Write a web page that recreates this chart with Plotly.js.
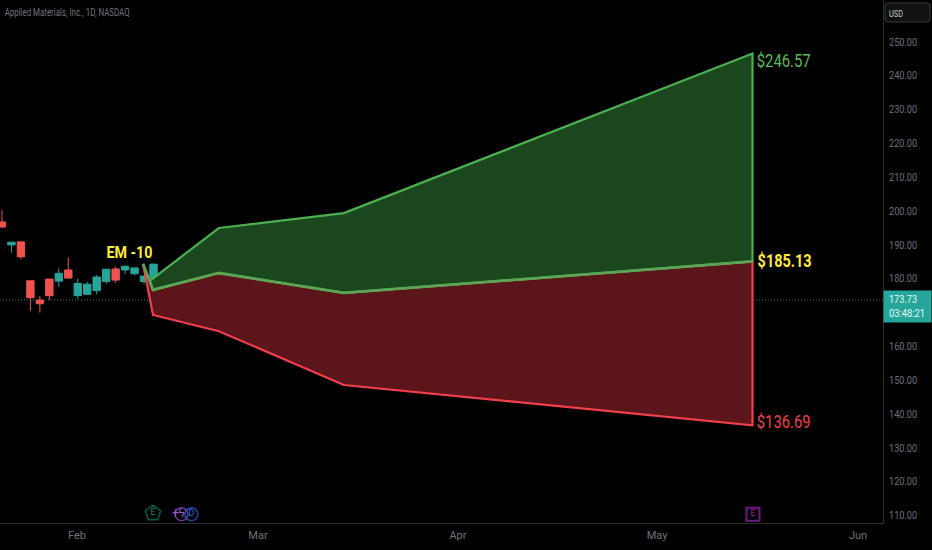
<!DOCTYPE html>
<html>
<head>
<meta charset="utf-8">
<script src="https://cdn.plot.ly/plotly-3.0.1.min.js"></script>
<style>html,body{margin:0;padding:0;background:#000}#chart{width:932px;height:550px}</style>
</head>
<body>
<div id="chart"></div>
<script>
var barIndex = [0,1,2,3,4,5,6,7,8,9,10,11,12,13,14,15,16,17,19];
var opens  = [196.8,190.0,190.9,179.4,173.7,179.9,179.3,182.6,175.0,175.4,176.5,179.2,182.9,182.6,181.5,179.2,180.2,174.7,171.9];
var highs  = [200.3,190.9,190.9,179.4,174.9,179.9,183.1,186.3,180.1,179.1,181.1,182.9,183.6,183.8,183.3,180.9,184.5,175.7,174.7];
var lows   = [195.0,187.7,185.7,170.5,170.0,173.7,177.6,180.2,174.1,175.4,175.4,178.6,178.8,181.4,181.0,178.4,180.2,168.8,171.2];
var closes = [195.3,190.8,186.5,174.4,172.6,175.0,181.6,180.2,178.6,178.4,180.5,182.8,179.6,183.7,183.2,180.8,184.3,168.8,173.6];
var dojiBar = [18], dojiOpen = [171.8], dojiHigh = [173.9], dojiLow = [169.1], dojiClose = [171.85];

var upperX = [15.58,22.9,36.1,79.25];
var upperY = [179.3,195.0,199.4,246.57];
var midX = [14.89,15.95,22.9,36.1,79.25];
var midY = [184.4,176.7,181.7,175.8,185.13];
var lowerX = [14.89,15.95,22.9,36.1,79.25];
var lowerY = [184.4,169.3,164.5,148.6,136.69];

var tickBars = [7.92,27.03,48.15,69.17,90.4];
var tickMonths = ['Feb','Mar','Apr','May','Jun'];
var priceTicks = [110,120,130,140,150,160,180,190,200,210,220,230,240,250];
var priceLabels = ['110.00','120.00','130.00','140.00','150.00','160.00','180.00','190.00','200.00','210.00','220.00','230.00','240.00','250.00'];
var lastPrice = 173.73;
var lastPriceText = '173.73<br>03:48:21';
var chartTitle = 'Applied Materials, Inc., 1D, NASDAQ';
var eventBars = [15.95,18.3,18.95,20.0,79.3];
var eventPrices = [110.7,110.4,110.4,110.4,110.4];
var eventTexts = ['E','+','ϟ','D','E'];

var FONT = 'Roboto,"Liberation Sans",Arial,sans-serif';
var GREY = '#6f727c';
var TEAL = '#26a69a', RED = '#f23f4b';

function toClosed(ax, ay, bx, by) {
  return {x: ax.concat(bx.slice().reverse()), y: ay.concat(by.slice().reverse())};
}
var midFromUpperX = [15.58].concat(midX.slice(1));
var midFromUpperY = [179.3].concat(midY.slice(1));
var upPoly = toClosed(upperX, upperY, midFromUpperX, midFromUpperY);
var loPoly = toClosed(midX, midY, lowerX, lowerY);

var traces = [
  {type:'scatter', mode:'lines', x:loPoly.x, y:loPoly.y, fill:'toself', fillcolor:'#5c161b',
   line:{color:RED,width:2.2}, hoverinfo:'skip', showlegend:false},
  {type:'scatter', mode:'lines', x:upPoly.x, y:upPoly.y, fill:'toself', fillcolor:'#1b471e',
   line:{color:'#4caf50',width:2.2}, hoverinfo:'skip', showlegend:false},
  {type:'scatter', mode:'lines', x:midX, y:midY, line:{color:'#5ba655',width:2.8}, hoverinfo:'skip', showlegend:false},
  {type:'candlestick', x:barIndex, open:opens, high:highs, low:lows, close:closes, whiskerwidth:0,
   increasing:{line:{color:TEAL,width:1},fillcolor:TEAL},
   decreasing:{line:{color:'#ef5350',width:1},fillcolor:'#ef5350'}, showlegend:false},
  {type:'candlestick', x:dojiBar, open:dojiOpen, high:dojiHigh, low:dojiLow, close:dojiClose, whiskerwidth:0,
   increasing:{line:{color:'#8a9a96',width:1},fillcolor:'#8a9a96'},
   decreasing:{line:{color:'#8a9a96',width:1},fillcolor:'#8a9a96'}, showlegend:false},
  {type:'scatter', mode:'markers+text', x:eventBars, y:eventPrices, text:eventTexts,
   textposition:'middle center', cliponaxis:false, hoverinfo:'skip', showlegend:false,
   textfont:{family:FONT,size:[9,12,12,9,9],color:['#0f8a66','#a24fd8','#a24fd8','#2f6fe0','#a01fb8']},
   marker:{symbol:['pentagon-open','circle-open','circle-open','circle-open','square-open'],size:[16,0,13,13,13],
           color:['#0f7a5c','#9c4fd0','#9c4fd0','#2962ff','#a31fc0'],line:{width:[1.6,0,1.5,1.5,2]}}}
];

var W = 932, H = 550, L = 883, B = 523;
function px(v){return v/L;}
function py(v){return 1 - v/B;}
function roundRect(x0,y0,x1,y1,r){
  var xa=px(x0),xb=px(x1),ya=py(y0),yb=py(y1),rx=r/L,ry=r/B;
  return 'M '+(xa+rx)+' '+ya+' L '+(xb-rx)+' '+ya+' Q '+xb+' '+ya+' '+xb+' '+(ya-ry)+
         ' L '+xb+' '+(yb+ry)+' Q '+xb+' '+yb+' '+(xb-rx)+' '+yb+' L '+(xa+rx)+' '+yb+
         ' Q '+xa+' '+yb+' '+xa+' '+(yb+ry)+' L '+xa+' '+(ya-ry)+' Q '+xa+' '+ya+' '+(xa+rx)+' '+ya+' Z';
}

var layout = {
  width:W, height:H, margin:{l:0,r:49,t:0,b:27}, paper_bgcolor:'#000', plot_bgcolor:'#000',
  font:{family:FONT}, showlegend:false, boxmode:'overlay', boxgap:0.22, boxgroupgap:0, dragmode:false,
  xaxis:{type:'linear', range:[-0.21,93.03], tickmode:'array', tickvals:tickBars, ticktext:tickMonths,
    showgrid:false, zeroline:false, ticks:'', rangeslider:{visible:false}, ticklabelstandoff:2,
    tickfont:{family:FONT,size:11,color:GREY}, showline:true, linecolor:'#2c2c2e', linewidth:1},
  yaxis:{side:'right', range:[107.8,262.4], tickmode:'array', tickvals:priceTicks, ticktext:priceLabels,
    showgrid:false, zeroline:false, ticks:'', ticklabelstandoff:3,
    tickfont:{family:FONT,size:10.5,color:GREY}, showline:true, linecolor:'#2c2c2e', linewidth:1},
  shapes:[
    {type:'line', xref:'paper', x0:0, x1:1, yref:'y', y0:lastPrice, y1:lastPrice,
     line:{color:'#47766f',width:1,dash:'1px,2px'}, layer:'below'},
    {type:'path', xref:'paper', yref:'paper', path:roundRect(885,3,930,22,3),
     line:{color:'#3a3a3d',width:1}, fillcolor:'#111113'}
  ],
  annotations:[
    {xref:'paper',yref:'paper',x:-14.5/L,y:py(12),xanchor:'left',yanchor:'middle',showarrow:false,
     text:chartTitle,font:{family:FONT,size:10,color:GREY}},
    {xref:'paper',yref:'paper',x:896/L,y:py(13),xanchor:'center',yanchor:'middle',showarrow:false,
     text:'USD',font:{family:FONT,size:9.5,color:'#c8c8c8'}},
    {xref:'paper',yref:'y',x:1,y:lastPrice,yshift:-7,xanchor:'left',yanchor:'middle',showarrow:false,
     text:lastPriceText,width:47,height:31,bgcolor:TEAL,borderpad:0,align:'left',
     font:{family:FONT,size:11,color:'#e8f6f4'}},
    {xref:'x',yref:'y',x:13.5,y:187.9,showarrow:false,text:'<b>EM -10</b>',
     font:{family:FONT,size:17,color:'#ffeb3b'}},
    {xref:'x',yref:'y',x:78.86,y:246.57,yshift:-7,xanchor:'left',showarrow:false,text:'$246.57',
     font:{family:FONT,size:18,color:'#5cb85c'}},
    {xref:'x',yref:'y',x:78.86,y:185.13,yshift:1,xanchor:'left',showarrow:false,text:'<b>$185.13</b>',
     font:{family:FONT,size:18,color:'#ffeb3b'}},
    {xref:'x',yref:'y',x:78.86,y:136.69,yshift:4,xanchor:'left',showarrow:false,text:'$136.69',
     font:{family:FONT,size:18,color:RED}}
  ]
};

// The reference uses a condensed face; fit real text to the measured widths.
function fit(el, w){
  el.setAttribute('textLength', w);
  el.setAttribute('lengthAdjust', 'spacingAndGlyphs');
}
var widths = {};
widths[chartTitle] = 125;
widths['EM -10'] = 46;
widths['$246.57'] = 54;
widths['$185.13'] = 54;
widths['$136.69'] = 54;
widths['USD'] = 14;
widths['173.73'] = 28;
widths['03:48:21'] = 36;
priceLabels.forEach(function(t){widths[t] = 28;});

Plotly.newPlot('chart', traces, layout, {displayModeBar:false, staticPlot:true}).then(function(){
  var nodes = document.querySelectorAll('#chart .annotation-text, #chart .annotation-text tspan.line, #chart .ytick text');
  nodes.forEach(function(el){
    var t = el.textContent;
    if (widths[t] && !el.querySelector('tspan.line')) fit(el, widths[t]);
    if (el.matches('tspan.line') && (t === '173.73' || t === '03:48:21')) {
      el.setAttribute('x', parseFloat(el.getAttribute('x')) + 5);
    }
  });
});
</script>
</body>
</html>
